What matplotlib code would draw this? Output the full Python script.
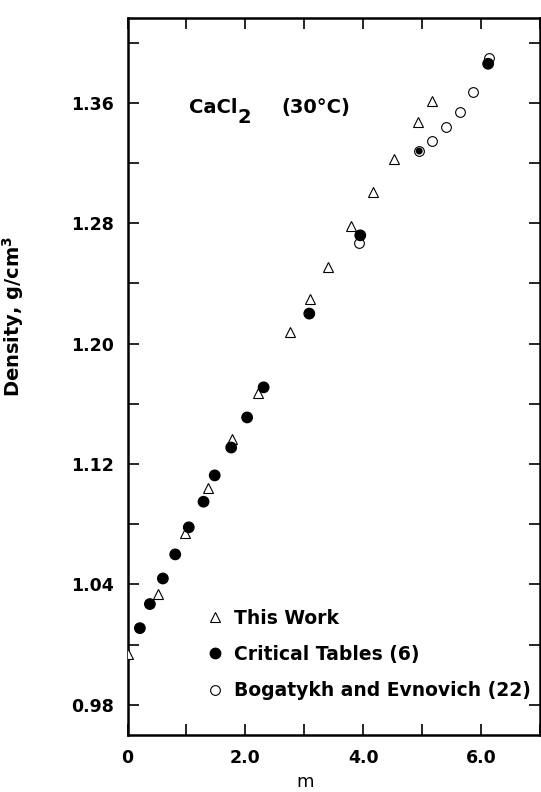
import numpy as np
import matplotlib.pyplot as plt

plt.rcParams['font.family'] = ['DejaVu Sans']
plt.rcParams['mathtext.fontset'] = 'custom'
plt.rcParams['mathtext.rm'] = 'DejaVu Sans:bold'
plt.rcParams['mathtext.default'] = 'rm'

# This Work (triangles)
tri_m = np.array([0.0, 0.51, 0.975, 1.37, 1.775, 2.21, 2.75, 3.09, 3.40, 3.79, 4.16, 4.52, 4.93, 5.16])
tri_d = np.array([0.994, 1.034, 1.074, 1.104, 1.137, 1.167, 1.208, 1.230, 1.251, 1.278, 1.301, 1.323, 1.347, 1.361])

# Critical Tables (6)
crit_m = np.array([0.21, 0.38, 0.60, 0.81, 1.04, 1.29, 1.48, 1.76, 2.03, 2.31, 3.085, 3.95, 4.95, 6.12])
crit_d = np.array([1.011, 1.027, 1.044, 1.060, 1.078, 1.095, 1.1125, 1.131, 1.151, 1.171, 1.220, 1.272, 1.328, 1.386])

# Bogatykh and Evnovich (22)
bog_m = np.array([3.92, 4.95, 5.16, 5.40, 5.64, 5.87, 6.13])
bog_d = np.array([1.267, 1.328, 1.335, 1.344, 1.354, 1.367, 1.390])

xticks = [0, 1, 2, 3, 4, 5, 6, 7]
xticklabels = ['0', '', '2.0', '', '4.0', '', '6.0', '']
yticks = [0.96, 1.00, 1.04, 1.08, 1.12, 1.16, 1.20, 1.24, 1.28, 1.32, 1.36, 1.40]
yticklabels = ['0.98', '', '1.04', '', '1.12', '', '1.20', '', '1.28', '', '1.36', '']

fig = plt.figure(figsize=(5.41, 7.92), dpi=100)
ax = fig.add_axes([127.5 / 541, 1 - 735 / 792, 412.5 / 541, 717 / 792])

ax.plot(tri_m, tri_d, '^', ms=6.5, mfc='white', mec='black', mew=0.8, ls='none', zorder=3)
ax.plot(bog_m, bog_d, 'o', ms=7, mfc='none', mec='black', mew=0.8, ls='none', zorder=3)
# point shared with Bogatykh is drawn as a small dot inside the ring
sizes = np.where(np.isin(crit_m, bog_m), 16, 56)
ax.scatter(crit_m, crit_d, s=sizes, c='black', zorder=4)

# legend handles
h1, = ax.plot([], [], '^', ms=6.5, mfc='white', mec='black', mew=0.8, ls='none')
h2, = ax.plot([], [], 'o', ms=7.5, mfc='black', mec='black', ls='none')
h3, = ax.plot([], [], 'o', ms=7, mfc='none', mec='black', mew=0.8, ls='none')
ax.legend([h1, h2, h3], ['This Work', 'Critical Tables (6)', 'Bogatykh and Evnovich (22)'],
          loc='upper left', bbox_to_anchor=(0.195, 0.176), frameon=False,
          borderpad=0, borderaxespad=0, handlelength=0.8, handletextpad=0.6,
          labelspacing=0.92, prop={'weight': 'bold', 'size': 13.5})

ax.set_xlim(0, 7.0)
ax.set_ylim(0.94, 1.4164)
ax.set_xticks(xticks)
ax.set_xticklabels(xticklabels)
ax.set_yticks(yticks)
ax.set_yticklabels(yticklabels)
ax.tick_params(direction='in', length=8, width=1.2, top=True, right=True,
               labelsize=12.5, pad=10)
for lab in ax.get_xticklabels() + ax.get_yticklabels():
    lab.set_fontweight('bold')
for s in ax.spines.values():
    s.set_linewidth(1.8)

ax.set_xlabel('m', fontsize=13)
ax.xaxis.set_label_coords(0.43, -0.053)
ax.set_ylabel(r'Density, g/cm$^3$', fontsize=14, fontweight='bold')
ax.yaxis.set_label_coords(-0.245, 0.584)

t = ax.text(0.15, 0.867, 'CaCl', transform=ax.transAxes, fontsize=14, fontweight='bold', va='baseline')
ax.annotate('2', xy=(1.0, 0.0), xycoords=t, fontsize=14, fontweight='bold', va='center')
ax.text(0.374, 0.867, '(30°C)', transform=ax.transAxes, fontsize=14, fontweight='bold', va='baseline')

fig.savefig('out.png', dpi=100)
